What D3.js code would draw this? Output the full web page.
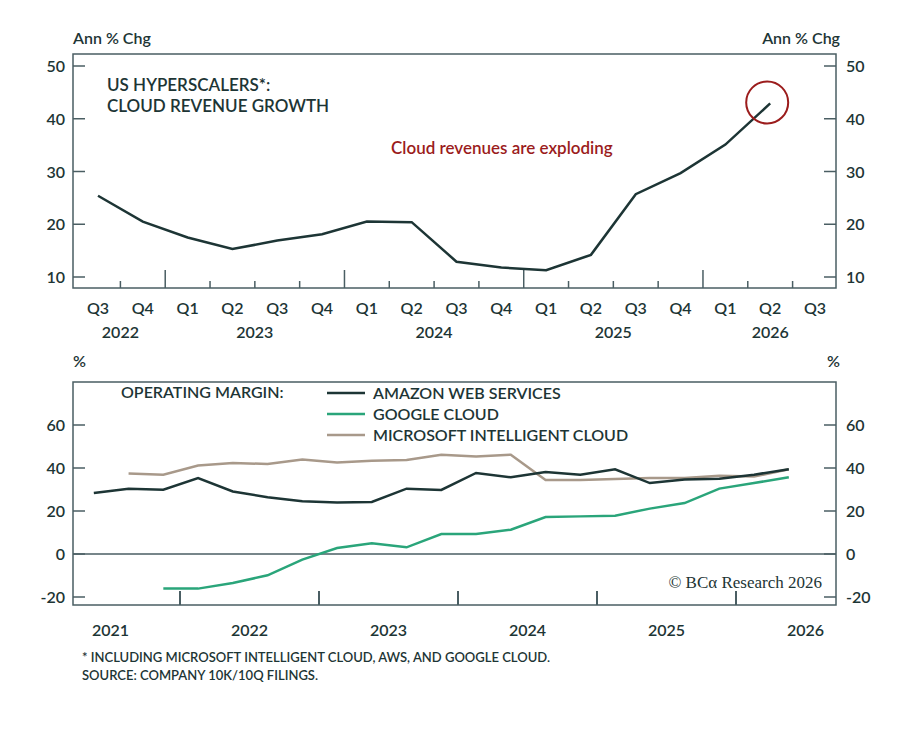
<!DOCTYPE html><html><head><meta charset="utf-8">
<script src="https://cdn.jsdelivr.net/npm/d3@7"></script>
<style>body{margin:0;background:#fff}text{font-family:Lato,"Open Sans",sans-serif;fill:#1d3535;font-weight:600}</style></head><body>
<svg id="c" width="912" height="734"></svg>
<script>
const topLabels=["Q3","Q4","Q1","Q2","Q3","Q4","Q1","Q2","Q3","Q4","Q1","Q2","Q3","Q4","Q1","Q2","Q3"];
const topYears=[{y:"2022",i:0.5},{y:"2023",i:3.5},{y:"2024",i:7.5},{y:"2025",i:11.5},{y:"2026",i:15}];
const cloudGrowth=[25.4,20.5,17.5,15.3,16.9,18.1,20.5,20.4,12.9,11.8,11.3,14.2,25.7,29.7,35.1,42.9];
const aws=[28.4,30.4,29.9,35.3,29.1,26.4,24.5,24.0,24.2,30.4,29.8,37.7,35.7,38.1,36.9,39.4,33.0,34.6,35.0,36.9,39.4];
const google=[null,null,-16.1,-16.1,-13.5,-9.9,-2.6,2.8,5.0,3.1,9.3,9.3,11.3,17.2,17.5,17.8,21.1,23.7,30.4,33.0,35.7];
const msft=[null,37.4,36.9,41.2,42.3,41.9,43.9,42.6,43.4,43.7,46.2,45.4,46.2,34.4,34.4,34.9,35.3,35.3,36.4,36.0,39.4];
const bottomYears=[2021,2022,2023,2024,2025,2026];
const topTicks=[10,20,30,40,50], botTicks=[-20,0,20,40,60];
const C={dark:"#1d3535",green:"#2aa57a",taupe:"#a8998a",red:"#9b1c1c",frame:"#4a5e63"};
const svg=d3.select("#c");
const L=73,R=836;
// TOP
const x1=d3.scaleLinear().domain([0,16]).range([98,815]);
const y1=d3.scaleLinear().domain([10,50]).range([277,66]);
const T0=54,B0=288;
svg.append("rect").attr("x",L).attr("y",T0).attr("width",R-L).attr("height",B0-T0).attr("fill","none").attr("stroke",C.frame).attr("stroke-width",1.5);
topTicks.forEach(v=>{
 svg.append("line").attr("x1",L).attr("x2",L+12).attr("y1",y1(v)).attr("y2",y1(v)).attr("stroke",C.frame).attr("stroke-width",1.5);
 svg.append("line").attr("x1",R-12).attr("x2",R).attr("y1",y1(v)).attr("y2",y1(v)).attr("stroke",C.frame).attr("stroke-width",1.5);
 svg.append("text").attr("x",L-8).attr("y",y1(v)+6).attr("text-anchor","end").attr("font-size",16).text(v);
 svg.append("text").attr("x",R+10).attr("y",y1(v)+6).attr("font-size",16).text(v);
});
topLabels.forEach((t,i)=>{
 svg.append("text").attr("x",x1(i)).attr("y",314).attr("text-anchor","middle").attr("font-size",16).text(t);
 if(i>0){const xx=x1(i-0.5);const maj=t==="Q1";
 svg.append("line").attr("x1",xx).attr("x2",xx).attr("y1",B0).attr("y2",B0-(maj?18:7)).attr("stroke",C.frame).attr("stroke-width",1.5);}
});
topYears.forEach(d=>svg.append("text").attr("x",x1(d.i)).attr("y",338).attr("text-anchor","middle").attr("font-size",16).text(d.y));
svg.append("path").datum(cloudGrowth).attr("fill","none").attr("stroke",C.dark).attr("stroke-width",2.5)
 .attr("d",d3.line().x((d,i)=>x1(i)).y(d=>y1(d)));
svg.append("ellipse").attr("cx",x1(15)-3).attr("cy",y1(42.9)-1).attr("rx",21).attr("ry",21).attr("fill","none").attr("stroke",C.red).attr("stroke-width",2);
svg.append("text").attr("x",391).attr("y",154).attr("font-size",17).style("fill",C.red).text("Cloud revenues are exploding");
svg.append("text").attr("x",107).attr("y",91).attr("font-size",17).text("US HYPERSCALERS*:");
svg.append("text").attr("x",107).attr("y",112).attr("font-size",17).text("CLOUD REVENUE GROWTH");
svg.append("text").attr("x",73).attr("y",44).attr("font-size",16).text("Ann % Chg");
svg.append("text").attr("x",840).attr("y",44).attr("text-anchor","end").attr("font-size",16).text("Ann % Chg");
// BOTTOM
const T1=382,B1=605;
const xb=d3.scaleLinear().domain([2022,2023]).range([180,319]);
const xq=i=>xb(2021.38+0.25*i);
const y2=d3.scaleLinear().domain([-20,60]).range([597,425]);
svg.append("rect").attr("x",L).attr("y",T1).attr("width",R-L).attr("height",B1-T1).attr("fill","none").attr("stroke",C.frame).attr("stroke-width",1.5);
svg.append("line").attr("x1",L).attr("x2",R).attr("y1",y2(0)).attr("y2",y2(0)).attr("stroke",C.frame).attr("stroke-width",1.5);
botTicks.forEach(v=>{
 svg.append("line").attr("x1",L).attr("x2",L+12).attr("y1",y2(v)).attr("y2",y2(v)).attr("stroke",C.frame).attr("stroke-width",1.5);
 svg.append("line").attr("x1",R-12).attr("x2",R).attr("y1",y2(v)).attr("y2",y2(v)).attr("stroke",C.frame).attr("stroke-width",1.5);
 svg.append("text").attr("x",L-8).attr("y",y2(v)+6).attr("text-anchor","end").attr("font-size",16).text(v);
 svg.append("text").attr("x",R+10).attr("y",y2(v)+6).attr("font-size",16).text(v);
});
bottomYears.forEach(yr=>{
 svg.append("text").attr("x",xb(yr+0.5)).attr("y",636).attr("text-anchor","middle").attr("font-size",16).text(yr);
 if(yr>2021) svg.append("line").attr("x1",xb(yr)).attr("x2",xb(yr)).attr("y1",B1).attr("y2",B1-14).attr("stroke",C.frame).attr("stroke-width",2);
});
const ln=d3.line().defined(d=>d!=null).x((d,i)=>xq(i)).y(d=>y2(d));
[[msft,C.taupe],[google,C.green],[aws,C.dark]].forEach(([s,c])=>svg.append("path").datum(s).attr("fill","none").attr("stroke",c).attr("stroke-width",2.5).attr("d",ln));
svg.append("text").attr("x",121).attr("y",398).attr("font-size",16).text("OPERATING MARGIN:");
[["AMAZON WEB SERVICES",C.dark],["GOOGLE CLOUD",C.green],["MICROSOFT INTELLIGENT CLOUD",C.taupe]].forEach((d,i)=>{
 const yy=393+i*21;
 svg.append("line").attr("x1",327).attr("x2",365).attr("y1",yy).attr("y2",yy).attr("stroke",d[1]).attr("stroke-width",2.5);
 svg.append("text").attr("x",373).attr("y",yy+6).attr("font-size",16).text(d[0]);
});
svg.append("text").attr("x",822).attr("y",588).attr("text-anchor","end").attr("font-size",17).style("font-family","'Liberation Serif',serif").style("font-weight",400).text("© BCα Research 2026");
svg.append("text").attr("x",73).attr("y",367).attr("font-size",16).text("%");
svg.append("text").attr("x",840).attr("y",367).attr("text-anchor","end").attr("font-size",16).text("%");
svg.append("text").attr("x",82).attr("y",662).attr("font-size",13).text("* INCLUDING MICROSOFT INTELLIGENT CLOUD, AWS, AND GOOGLE CLOUD.");
svg.append("text").attr("x",82).attr("y",680).attr("font-size",13).text("SOURCE: COMPANY 10K/10Q FILINGS.");
</script></body></html>
